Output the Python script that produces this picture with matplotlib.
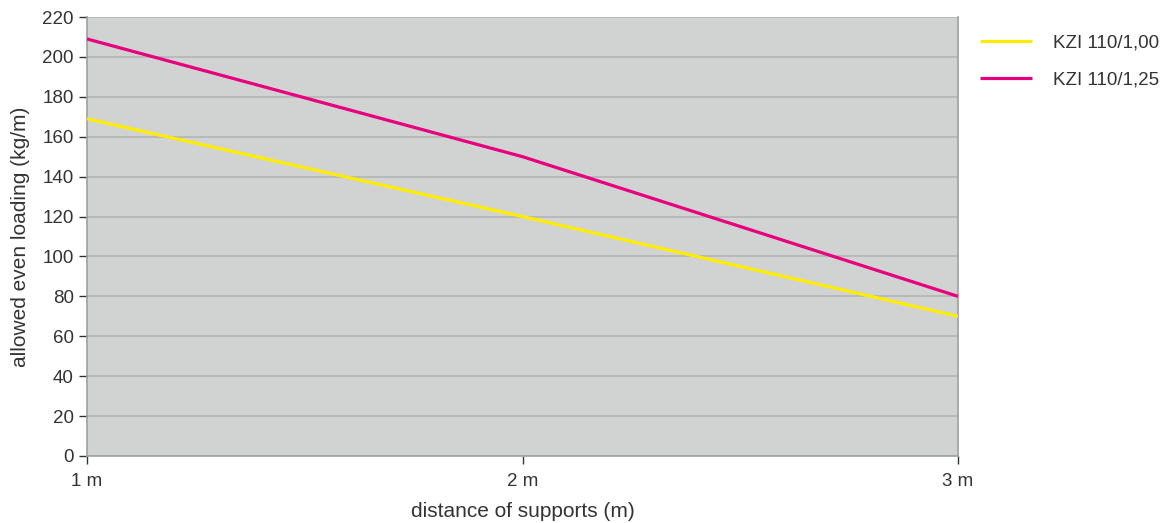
import matplotlib
matplotlib.use("Agg")
import matplotlib.pyplot as plt

plt.rcParams['font.family'] = ['Liberation Sans', 'DejaVu Sans']

x_labels = ["1 m", "2 m", "3 m"]
x_vals = [1, 2, 3]
series_names = ["KZI 110/1,00", "KZI 110/1,25"]
kzi_100 = [169, 120, 70]
kzi_125 = [209, 150, 80]
colors = ["#ffed00", "#e6007e"]

fig = plt.figure(figsize=(11.62, 5.23), dpi=100)
ax = fig.add_axes([87/1162, 1-456/523, (958-87)/1162, (456-17)/523])
ax.set_facecolor("#d1d3d2")

for vals, c, n in zip([kzi_100, kzi_125], colors, series_names):
    ax.plot(x_vals, vals, color=c, lw=2.3, label=n, solid_capstyle='butt', zorder=3)

ax.set_xlim(1, 3)
ax.set_ylim(0, 220)
ax.set_yticks(range(0, 221, 20))
ax.set_xticks(x_vals)
ax.set_xticklabels(x_labels)
ax.grid(axis='y', color="#b4b4b4", lw=1.2, zorder=1)
ax.set_axisbelow(True)
for s in ['left', 'bottom', 'right']:
    ax.spines[s].set_color("#a0a0a0")
    ax.spines[s].set_linewidth(1.2)
ax.spines['top'].set_visible(False)
ax.tick_params(axis='both', colors="#333333", labelsize=13.5, length=6, width=1)
ax.tick_params(axis='x', pad=6)
ax.set_xlabel("distance of supports (m)", fontsize=15, color="#333333", labelpad=9)
ax.set_ylabel("allowed even loading (kg/m)", fontsize=15, color="#333333", labelpad=9)

leg = ax.legend(loc='upper left', bbox_to_anchor=(1.0057, 0.9995), frameon=False,
                fontsize=13.5, handlelength=2.8, handletextpad=1.1, labelspacing=1.08,
                labelcolor="#333333")
plt.savefig("out.png", dpi=100)
